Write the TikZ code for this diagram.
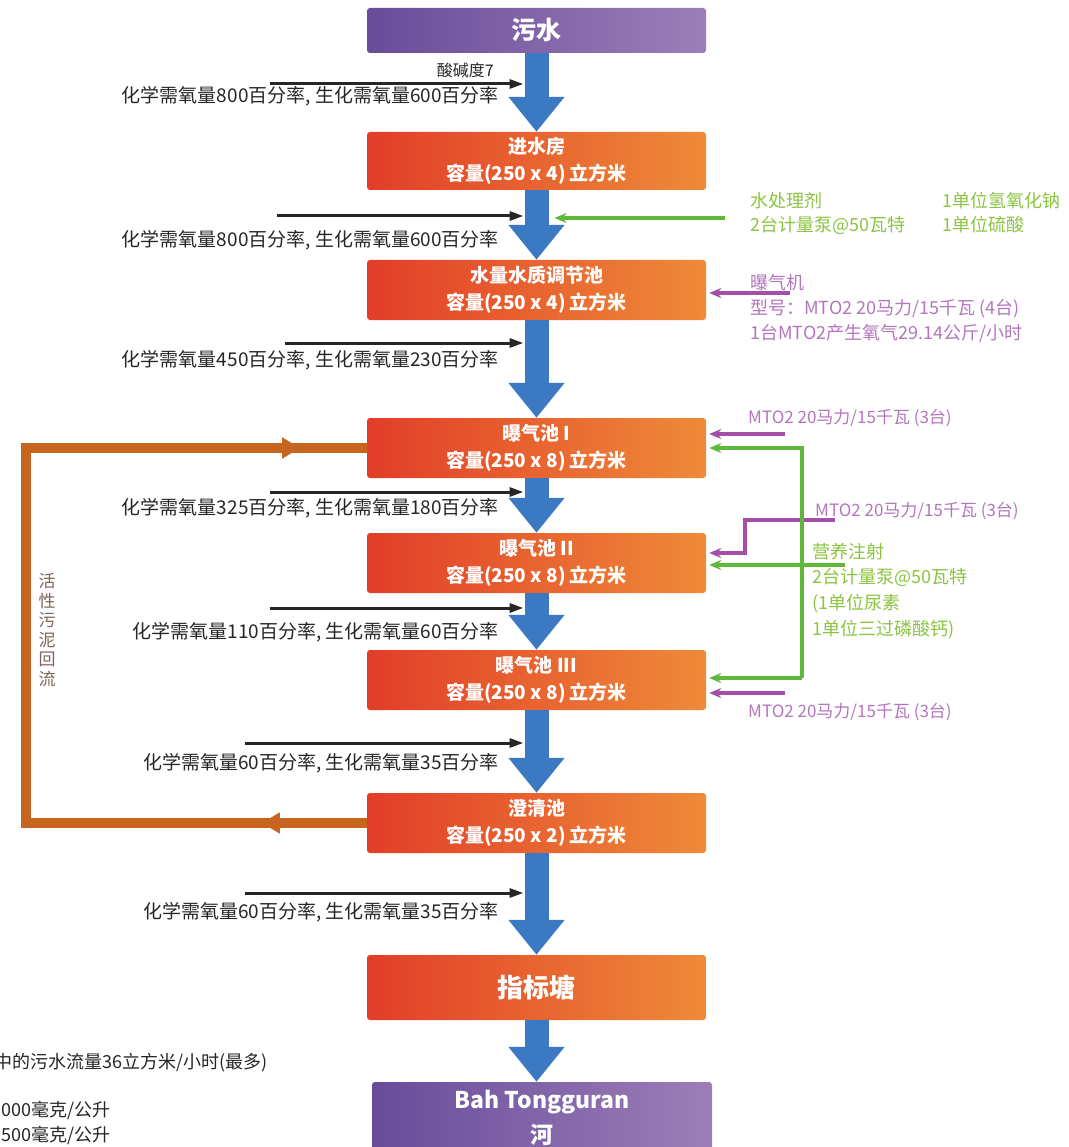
\documentclass[tikz,border=0pt]{standalone}
\usepackage{fontspec}
\setmainfont{Noto Sans CJK SC}
\usetikzlibrary{arrows.meta,decorations.markings}

\definecolor{flowblue}{HTML}{3B79C3}
\definecolor{tankred}{HTML}{E23D28}
\definecolor{tankorange}{HTML}{EE8B39}
\definecolor{endlo}{HTML}{684C9A}
\definecolor{endhi}{HTML}{9D7EB8}
\definecolor{sludge}{HTML}{C7651F}
\definecolor{dosegreen}{HTML}{60B83A}
\definecolor{dosetext}{HTML}{8AC440}
\definecolor{airpurple}{HTML}{A54EA8}
\definecolor{airtext}{HTML}{B276BB}
\definecolor{looptext}{HTML}{80625A}

\tikzset{
  tank/.style={rounded corners=3pt, left color=tankred, right color=tankorange,
    text=white, font=\fontsize{19}{27}\selectfont\bfseries, align=center,
    minimum width=339pt, minimum height=60pt, inner sep=0pt},
  outfall/.style={tank, left color=endlo, right color=endhi,
    font=\fontsize{23}{35}\selectfont\bfseries},
  flow/.style={flowblue, line width=24pt, -{Triangle[width=54pt,length=35pt]}},
  feed/.style={black!85, line width=3pt, -{Triangle[length=14pt,width=9pt]}},
  lbl/.style={font=\fontsize{19}{22}\selectfont, text=black!85, inner sep=0pt},
  dose/.style={dosegreen, line width=4pt, -{Stealth[length=12pt,width=10pt]}},
  air/.style={airpurple, line width=4.5pt, -{Stealth[length=12pt,width=10pt]}},
  dosenote/.style={font=\fontsize{18}{22}\selectfont, text=dosetext, inner sep=0pt, anchor=west},
  airnote/.style={font=\fontsize{18}{22}\selectfont, text=airtext, inner sep=0pt, anchor=west},
}

\begin{document}
\begin{tikzpicture}[x=1pt, y=-1pt]
\useasboundingbox (0,0) rectangle (1068,1147);

% treatment line
\node[outfall, minimum height=45pt, font=\fontsize{25}{30}\selectfont\bfseries] (src) at (536.5,30.5) {污水};
\node[tank, minimum height=58pt] (inlet) at (536.5,161) {进水房\\容量(250 x 4) 立方米};
\node[tank] (equal) at (536.5,290) {水量水质调节池\\容量(250 x 4) 立方米};
\node[tank] (aer1) at (536.5,448) {曝气池 I\\容量(250 x 8) 立方米};
\node[tank] (aer2) at (536.5,563) {曝气池 II\\容量(250 x 8) 立方米};
\node[tank] (aer3) at (536.5,680) {曝气池 III\\容量(250 x 8) 立方米};
\node[tank] (clar) at (536.5,823) {澄清池\\容量(250 x 2) 立方米};
\node[tank, minimum height=65pt, font=\fontsize{26}{30}\selectfont\bfseries] (pond) at (536.5,987.5) {指标塘};
\node[outfall, minimum width=340pt, minimum height=72pt] (river) at (542,1118) {Bah Tongguran\\河};

\foreach \a/\b in {src/inlet, inlet/equal, equal/aer1, aer1/aer2, aer2/aer3, aer3/clar, clar/pond}
  \draw[flow] (\a.south) -- (\b.north);
\draw[flow] (pond.south) -- (pond.south |- river.north);

% quality readings
\coordinate (shaftL) at ([xshift=-13pt]src.south);
\coordinate (shaftR) at ([xshift=18pt]src.south);
\coordinate (rim) at ([xshift=3pt]aer1.east);
\foreach \ya/\xa/\yb/\txt [count=\i] in {
    84/270/96/{化学需氧量800百分率, 生化需氧量600百分率},
    216/277/240/{化学需氧量800百分率, 生化需氧量600百分率},
    343/285/360/{化学需氧量450百分率, 生化需氧量230百分率},
    492/270/508/{化学需氧量325百分率, 生化需氧量180百分率},
    608/270/632/{化学需氧量110百分率, 生化需氧量60百分率},
    743/245/763/{化学需氧量60百分率, 生化需氧量35百分率},
    893/245/912/{化学需氧量60百分率, 生化需氧量35百分率}} {
  \coordinate (s\i) at (\xa,\ya);
  \draw[feed] (s\i) -- (s\i -| shaftL);
  \node[lbl, anchor=east] (q\i) at (499,\yb) {\txt};
}
\node[lbl, anchor=east, font=\fontsize{16}{20}\selectfont] (ph) at (494,70) {酸碱度7};

% sludge return
\coordinate (loopx) at (26,640);
\draw[sludge, line width=10pt, postaction={decorate}, decoration={markings,
    mark=at position 105pt with {\arrow{Triangle[width=20pt,length=18pt]}},
    mark=at position 990pt with {\arrow{Triangle[width=20pt,length=18pt]}}}]
  (clar.west) -| (loopx) |- (aer1.west);
\node[font=\fontsize{17}{19.5}\selectfont, text=looptext, align=center, inner sep=0pt] (loopnote) at (47,630) {活\\性\\污\\泥\\回\\流};

% chemicals
\coordinate (chem) at (725,218);
\draw[dose] (chem) -- (chem -| shaftR);
\node[dosenote] (chem1) at (750,201) {水处理剂};
\node[dosenote] (chem2) at (750,225) {2台计量泵@50瓦特};
\node[dosenote] (chem3) at (942,201) {1单位氢氧化钠};
\node[dosenote] (chem4) at (942,225) {1单位硫酸};

% aerators
\coordinate (blow0) at (790,293);
\coordinate (blow1) at (785,434);
\coordinate (blow2) at (835,520);
\coordinate (bend) at (745,553);
\coordinate (blow3) at (785,693);
\draw[air] (blow0) -- (blow0 -| rim);
\draw[air] (blow1) -- (blow1 -| rim);
\draw[air] (blow2) -| (bend) -- (bend -| rim);
\draw[air] (blow3) -- (blow3 -| rim);
\node[airnote] (air1) at (750,283) {曝气机};
\node[airnote] (air2) at (750,309) {型号：MTO2 20马力/15千瓦 (4台)};
\node[airnote] (air3) at (750,334) {1台MTO2产生氧气29.14公斤/小时};
\node[airnote, font=\fontsize{17}{20}\selectfont] (m1) at (748,418) {MTO2 20马力/15千瓦 (3台)};
\node[airnote, font=\fontsize{17}{20}\selectfont] (m2) at (815,511) {MTO2 20马力/15千瓦 (3台)};
\node[airnote, font=\fontsize{17}{20}\selectfont] (m3) at (748,712) {MTO2 20马力/15千瓦 (3台)};

% nutrients
\coordinate (nutr) at (802,678);
\coordinate (nutr2) at (845,565);
\draw[dose] (nutr) |- (aer1.east -| rim);
\draw[dose] (nutr) -- (nutr -| rim);
\draw[dose] (nutr2) -- (nutr2 -| rim);
\node[dosenote] (n1) at (812,552) {营养注射};
\node[dosenote] (n2) at (812,577) {2台计量泵@50瓦特};
\node[dosenote] (n3) at (812,604) {(1单位尿素};
\node[dosenote] (n4) at (812,630) {1单位三过磷酸钙)};

% design notes
\node[lbl, anchor=east, font=\fontsize{18}{22}\selectfont] (rate) at (268,1063) {中的污水流量36立方米/小时(最多)};
\node[lbl, anchor=west, font=\fontsize{18}{22}\selectfont] (cod) at (1,1110) {000毫克/公升};
\node[lbl, anchor=west, font=\fontsize{18}{22}\selectfont] (bod) at (1,1135) {500毫克/公升};
\end{tikzpicture}
\end{document}
